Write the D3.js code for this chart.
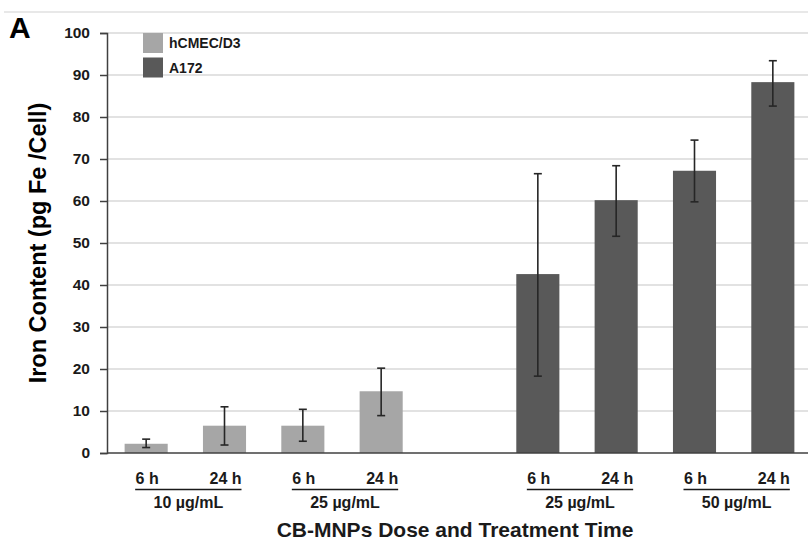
<!DOCTYPE html>
<html><head><meta charset="utf-8">
<script src="https://cdn.jsdelivr.net/npm/d3@7/dist/d3.min.js"></script>
<style>body{margin:0;background:#fff}text{font-family:Arial,"Liberation Sans",sans-serif}</style>
</head><body>
<svg id="c" width="808" height="541"></svg>
<script>
const slots = ["c1","c2","c3","c4","gap","c5","c6","c7","c8"];
const times = ["6 h","24 h","6 h","24 h","6 h","24 h","6 h","24 h"];
const cats = ["c1","c2","c3","c4","c5","c6","c7","c8"];
const series = ["hCMEC/D3","hCMEC/D3","hCMEC/D3","hCMEC/D3","A172","A172","A172","A172"];
const values = [2.2, 6.5, 6.5, 14.7, 42.6, 60.2, 67.2, 88.3];
const errLow = [1.3, 1.9, 2.8, 8.9, 18.3, 51.6, 59.8, 82.6];
const errHigh = [3.3, 11.0, 10.4, 20.2, 66.5, 68.4, 74.5, 93.4];
const doseLabels = ["10 µg/mL","25 µg/mL","25 µg/mL","50 µg/mL"];
const doseGroups = [["c1","c2"],["c3","c4"],["c5","c6"],["c7","c8"]];
const legendNames = ["hCMEC/D3","A172"];
const yTicks = [0,10,20,30,40,50,60,70,80,90,100];
const colors = {"hCMEC/D3":"#a6a6a6","A172":"#595959"};

const svg = d3.select("#c");
const x = d3.scaleBand().domain(slots).range([107, 812]).paddingInner(0.45).paddingOuter(0.225);
const y = d3.scaleLinear().domain([0,100]).range([453, 33]);

// top border line
svg.append("line").attr("x1",4).attr("x2",808).attr("y1",12).attr("y2",12).attr("stroke","#e0e0e0").attr("stroke-width",1.5);

// gridlines
svg.append("g").selectAll("line").data(yTicks.filter(d=>d>0)).join("line")
  .attr("x1",107).attr("x2",808).attr("y1",d=>y(d)).attr("y2",d=>y(d))
  .attr("stroke","#d9d9d9").attr("stroke-width",1.5);

// bars
svg.append("g").selectAll("rect").data(cats).join("rect")
  .attr("x",d=>x(d)).attr("width",x.bandwidth())
  .attr("y",(d,i)=>y(values[i])).attr("height",(d,i)=>y(0)-y(values[i]))
  .attr("fill",(d,i)=>colors[series[i]]);

// error bars
const eg = svg.append("g").attr("stroke","#262626").attr("stroke-width",1.6);
cats.forEach((c,i)=>{
  const cx = x(c)+x.bandwidth()/2;
  eg.append("line").attr("x1",cx).attr("x2",cx).attr("y1",y(errLow[i])).attr("y2",y(errHigh[i]));
  [errLow[i],errHigh[i]].forEach(v=>eg.append("line").attr("x1",cx-4).attr("x2",cx+4).attr("y1",y(v)).attr("y2",y(v)));
});

// y axis
const ya = svg.append("g").attr("transform","translate(107,0)")
  .call(d3.axisLeft(y).tickValues(yTicks).tickSize(7).tickPadding(10));
ya.select(".domain").attr("stroke","#404040").attr("stroke-width",1.5);
ya.selectAll(".tick line").attr("stroke","#404040").attr("stroke-width",1.5);
ya.selectAll(".tick text").attr("font-size",15.5).attr("font-weight","bold").attr("fill","#1a1a1a")
  .attr("font-family","Arial, 'Liberation Sans', sans-serif");

// x baseline
svg.append("line").attr("x1",107).attr("x2",808).attr("y1",y(0)).attr("y2",y(0)).attr("stroke","#404040").attr("stroke-width",1.5);

// time labels
svg.append("g").selectAll("text").data(cats).join("text")
  .attr("x",d=>x(d)+x.bandwidth()/2+1).attr("y",484).attr("text-anchor","middle")
  .attr("font-size",16).attr("font-weight","bold").attr("fill","#1a1a1a")
  .text((d,i)=>times[i]);

// dose groups
doseGroups.forEach((g,i)=>{
  const c1 = x(g[0])+x.bandwidth()/2, c2 = x(g[1])+x.bandwidth()/2;
  svg.append("line").attr("x1",c1-11).attr("x2",c2+17).attr("y1",489.5).attr("y2",489.5).attr("stroke","#1a1a1a").attr("stroke-width",1.4);
  svg.append("text").attr("x",(c1+c2)/2+3).attr("y",508).attr("text-anchor","middle")
    .attr("font-size",16).attr("font-weight","bold").attr("fill","#1a1a1a").text(doseLabels[i]);
});

// axis titles
svg.append("text").attr("x",455).attr("y",537).attr("text-anchor","middle")
  .attr("font-size",21).attr("font-weight","bold").attr("fill","#1a1a1a").text("CB-MNPs Dose and Treatment Time");
svg.append("text").attr("transform","translate(46,243) rotate(-90)").attr("text-anchor","middle")
  .attr("font-size",23.5).attr("font-weight","bold").attr("fill","#000").text("Iron Content (pg Fe /Cell)");

// panel letter
svg.append("text").attr("x",9).attr("y",38).attr("font-size",30).attr("font-weight","bold").attr("fill","#000").text("A");

// legend
const lg = svg.append("g");
legendNames.forEach((n,i)=>{
  lg.append("rect").attr("x",143).attr("y",33+i*24.5).attr("width",20).attr("height",20).attr("fill",colors[n]);
  lg.append("text").attr("x",169).attr("y",48+i*24.5).attr("font-size",14).attr("font-weight","bold").attr("fill","#1a1a1a").text(n);
});
</script>
</body></html>
